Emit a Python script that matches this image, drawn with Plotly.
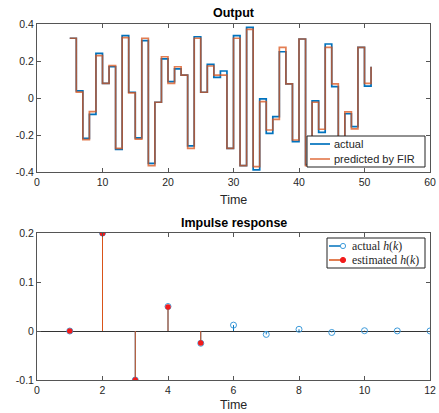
import plotly.graph_objects as go

# ---------------- data ----------------
time_steps = list(range(5, 52))
actual_output = [0.323, 0.038, -0.218, -0.088, 0.241, 0.079, 0.169, -0.278, 0.337, 0.031,
                 -0.215, 0.310, -0.353, -0.023, 0.211, 0.088, 0.157, 0.124, -0.259, 0.331,
                 0.031, 0.182, 0.112, 0.146, -0.272, 0.337, -0.366, 0.382, -0.389, -0.005,
                 -0.191, -0.101, 0.250, 0.076, -0.236, 0.319, -0.360, -0.016, -0.186, 0.292,
                 0.061, -0.300, -0.085, -0.155, 0.274, 0.064, 0.169]
predicted_output = [0.323, 0.032, -0.225, -0.074, 0.229, 0.079, 0.175, -0.272, 0.326, 0.028,
                    -0.222, 0.323, -0.366, -0.023, 0.223, 0.079, 0.169, 0.124, -0.272, 0.323,
                    0.031, 0.173, 0.124, 0.124, -0.272, 0.323, -0.366, 0.371, -0.371, -0.020,
                    -0.173, -0.115, 0.274, 0.076, -0.227, 0.319, -0.366, -0.023, -0.169, 0.274,
                    0.076, -0.300, -0.075, -0.167, 0.274, 0.079, 0.169]

k_actual = list(range(1, 13))
h_actual = [0.0, 0.2, -0.1, 0.05, -0.025, 0.012, -0.007, 0.0035, -0.003, 0.0006, 0.0002, 0.0001]
k_est = [1, 2, 3, 4, 5]
h_est = [0.0, 0.199, -0.1, 0.049, -0.0245]

top_xticks = [0, 10, 20, 30, 40, 50, 60]
top_yticks = [-0.4, -0.2, 0, 0.2, 0.4]
top_yticklabels = ["-0.4", "-0.2", "0", "0.2", "0.4"]
bot_xticks = [0, 2, 4, 6, 8, 10, 12]
bot_yticks = [-0.1, 0, 0.1, 0.2]
bot_yticklabels = ["-0.1", "0", "0.1", "0.2"]

top_legend_labels = ["actual", "predicted by FIR"]
bot_legend_labels = ["actual <i>h</i>(<i>k</i>)", "estimated <i>h</i>(<i>k</i>)"]

# ---------------- styles ----------------
BLUE = "#0072BD"
ORANGE = "rgba(217,83,25,0.75)"
STEM_RED = "#D95319"
DOT_RED = "#F21B1B"
CIRC_BLUE = "#3D9BDB"
AX = "#555555"
SANS = "Liberation Sans, Arial, sans-serif"
SERIF = "Liberation Serif, Times New Roman, serif"

W, H = 439, 413
ML, MR, MT, MB = 37, 9, 24, 33
PW, PH = W - ML - MR, H - MT - MB


def px(xp):
    return (xp - ML) / PW


def py(yp):
    return (H - MB - yp) / PH


fig = go.Figure()

# top: stairs
fig.add_trace(go.Scatter(x=time_steps, y=actual_output, mode="lines", line_shape="hv",
                         line=dict(color=BLUE, width=1.7), name=top_legend_labels[0],
                         xaxis="x", yaxis="y", showlegend=False))
fig.add_trace(go.Scatter(x=time_steps, y=predicted_output, mode="lines", line_shape="hv",
                         line=dict(color=ORANGE, width=1.7), name=top_legend_labels[1],
                         xaxis="x", yaxis="y", showlegend=False))


def stem_xy(ks, hs):
    xs, ys = [], []
    for k, h in zip(ks, hs):
        xs += [k, k, None]
        ys += [0, h, None]
    return xs, ys


ax_s, ay_s = stem_xy(k_actual, h_actual)
ex_s, ey_s = stem_xy(k_est, h_est)

fig.add_trace(go.Scatter(x=ax_s, y=ay_s, mode="lines", line=dict(color=BLUE, width=1),
                         showlegend=False, xaxis="x2", yaxis="y2", hoverinfo="skip"))
fig.add_trace(go.Scatter(x=k_actual, y=h_actual, mode="markers", name=bot_legend_labels[0],
                         marker=dict(symbol="circle-open", size=6, color=CIRC_BLUE,
                                     line=dict(width=1)),
                         showlegend=False, xaxis="x2", yaxis="y2"))
fig.add_trace(go.Scatter(x=ex_s, y=ey_s, mode="lines", line=dict(color=STEM_RED, width=1),
                         showlegend=False, xaxis="x2", yaxis="y2", hoverinfo="skip"))
fig.add_trace(go.Scatter(x=k_est, y=h_est, mode="markers", name=bot_legend_labels[1],
                         marker=dict(symbol="circle", size=5.5, color=DOT_RED),
                         showlegend=False, xaxis="x2", yaxis="y2"))

axis_common = dict(showline=True, mirror="ticks", linecolor=AX, linewidth=1,
                   ticks="inside", ticklen=4, tickcolor=AX, tickwidth=1,
                   showgrid=False, automargin=False,
                   tickfont=dict(family=SANS, size=10.5, color="#262626"))

# ---------- hand-drawn legends (MATLAB-like compact boxes) ----------
shapes = []
annotations = []

# top legend box
shapes.append(dict(type="rect", xref="paper", yref="paper",
                   x0=px(307), x1=px(425), y0=py(167), y1=py(136),
                   line=dict(color="#222222", width=1), fillcolor="white", layer="above"))
for lab, col, yy in [(top_legend_labels[0], BLUE, 144), (top_legend_labels[1], ORANGE, 159)]:
    shapes.append(dict(type="line", xref="paper", yref="paper",
                       x0=px(310), x1=px(330), y0=py(yy), y1=py(yy),
                       line=dict(color=col, width=1.7), layer="above"))
    annotations.append(dict(text=lab, x=px(331.5), y=py(yy), xref="paper", yref="paper",
                            xanchor="left", yanchor="middle", showarrow=False,
                            font=dict(family=SANS, size=11, color="#262626")))

# bottom legend box
shapes.append(dict(type="rect", xref="paper", yref="paper",
                   x0=px(327), x1=px(425), y0=py(268), y1=py(238),
                   line=dict(color="#222222", width=1), fillcolor="white", layer="above"))
r = 2.6
for lab, col, mcol, filled, yy in [(bot_legend_labels[0], BLUE, CIRC_BLUE, False, 246),
                                   (bot_legend_labels[1], STEM_RED, DOT_RED, True, 260)]:
    shapes.append(dict(type="line", xref="paper", yref="paper",
                       x0=px(329), x1=px(343), y0=py(yy), y1=py(yy),
                       line=dict(color=col, width=1.5), layer="above"))
    shapes.append(dict(type="circle", xref="paper", yref="paper",
                       x0=px(343 - r), x1=px(343 + r), y0=py(yy + r), y1=py(yy - r),
                       line=dict(color=mcol, width=1),
                       fillcolor=mcol if filled else "white", layer="above"))
    annotations.append(dict(text=lab, x=px(350), y=py(yy), xref="paper", yref="paper",
                            xanchor="left", yanchor="middle", showarrow=False,
                            font=dict(family=SERIF, size=11.8, color="#262626")))

annotations += [
    dict(text="<b>Output</b>", x=0.5, y=py(13.3), xref="paper", yref="paper",
         showarrow=False, yanchor="middle", font=dict(family=SANS, size=12.5, color="black")),
    dict(text="<b>Impulse response</b>", x=0.5, y=py(222.7), xref="paper", yref="paper",
         showarrow=False, yanchor="middle", font=dict(family=SANS, size=12.5, color="black")),
    dict(text="Time", x=0.5, y=py(200), xref="paper", yref="paper",
         showarrow=False, yanchor="middle", font=dict(family=SANS, size=12.5, color="#262626")),
    dict(text="Time", x=0.5, y=py(405), xref="paper", yref="paper",
         showarrow=False, yanchor="middle", font=dict(family=SANS, size=12.5, color="#262626")),
]

fig.update_layout(
    width=W, height=H,
    margin=dict(l=ML, r=MR, t=MT, b=MB, autoexpand=False),
    paper_bgcolor="white", plot_bgcolor="white",
    showlegend=False,
    xaxis=dict(domain=[0, 1], range=[0, 60], tickvals=top_xticks, anchor="y",
               zeroline=False, **axis_common),
    yaxis=dict(domain=[py(172), 1], range=[-0.4, 0.4], tickvals=top_yticks,
               ticktext=top_yticklabels, anchor="x", zeroline=False, **axis_common),
    xaxis2=dict(domain=[0, 1], range=[0, 12], tickvals=bot_xticks, anchor="y2",
                zeroline=False, **axis_common),
    yaxis2=dict(domain=[0, py(233)], range=[-0.1, 0.2], tickvals=bot_yticks,
                ticktext=bot_yticklabels, anchor="x2", zeroline=True,
                zerolinecolor="#333333", zerolinewidth=1, **axis_common),
    shapes=shapes,
    annotations=annotations,
)

fig.write_html("out.html", config={"displayModeBar": False},
               post_script="document.body.style.margin='0';document.body.style.overflow='hidden';")
